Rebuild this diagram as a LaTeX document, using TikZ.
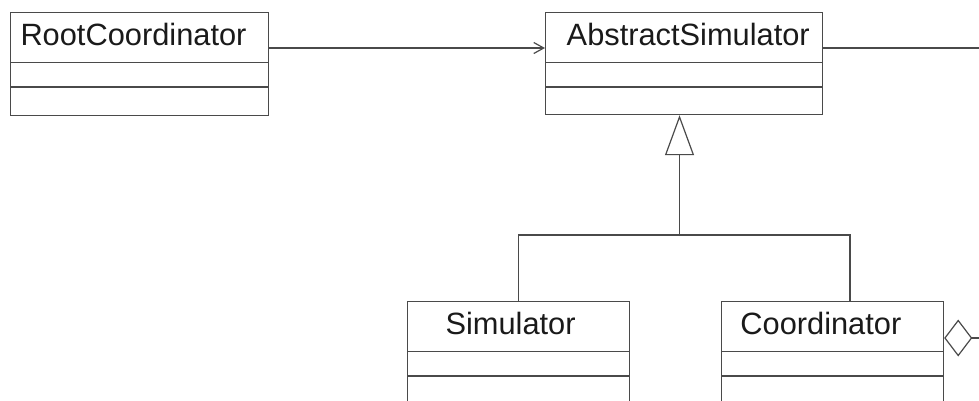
\documentclass[tikz,border=0pt]{standalone}
\usepackage{fontspec}
\setmainfont{Liberation Sans}
\usetikzlibrary{arrows.meta,calc}

\definecolor{umlline}{HTML}{4A4A4A}
\definecolor{umltext}{HTML}{1A1A1A}

\tikzset{
  classbox/.style={draw=umlline, line width=1.2pt, rectangle, inner sep=0pt,
                   anchor=north west, minimum height=103pt},
  classname/.style={anchor=base west, inner sep=0pt, text=umltext,
                    font=\fontsize{30.8pt}{36pt}\selectfont},
  divider/.style={draw=umlline, line width=1.2pt},
  assoc/.style={draw=umlline, line width=1.2pt},
}

\begin{document}
\begin{tikzpicture}[x=1pt, y=-1pt]
  \useasboundingbox (0,0) rectangle (979,400);
  \clip (0,0) rectangle (979,400);

  % class boxes
  \node[classbox, minimum width=258pt] (rc)    at (10,12)  {};
  \node[classbox, minimum width=277pt, minimum height=102pt] (as) at (545,12) {};
  \node[classbox, minimum width=222pt] (sim)   at (407,301) {};
  \node[classbox, minimum width=222pt] (coord) at (721,301) {};

  % class names
  \node[classname] (rc-name)    at (20.3,45)   {RootCoordinator};
  \node[classname] (as-name)    at (566.5,45)  {AbstractSimulator};
  \node[classname] (sim-name)   at (445.3,334.3) {Simulator};
  \node[classname] (coord-name) at (740.2,334.3) {Coordinator};

  % compartment separators
  \foreach \c in {rc,as,sim,coord}{
    \draw[divider] ($(\c.north west)+(0,50.5)$) -- ($(\c.north east)+(0,50.5)$);
    \draw[divider] ($(\c.north west)+(0,75)$)   -- ($(\c.north east)+(0,75)$);
  }

  % navigable association RootCoordinator -> AbstractSimulator
  \draw[assoc, -{Straight Barb[length=10pt,width=11pt,line width=1.2pt]}]
    ($(rc.north east)+(0,36)$) -- ($(as.north west)+(0,36)$);

  % association leaving AbstractSimulator to the right
  \coordinate (as-out) at (979,48);
  \draw[assoc] ($(as.north east)+(0,36)$) -- (as-out);

  % generalization tree
  \coordinate (gen) at ($(as.south west)+(134.5,121)$);
  \draw[assoc] (sim.north) |- ($(coord.north west)+(129,-66)$) -- ($(coord.north west)+(129,0)$);
  \draw[assoc, -{Triangle[open,length=40pt,width=29pt,line width=1.2pt]}]
    (gen) -- ($(as.south west)+(134.5,0)$);

  % aggregation from Coordinator
  \coordinate (coord-out) at (979,338);
  \draw[assoc, {Diamond[open,length=28pt,width=37pt,line width=1.2pt]}-]
    ($(coord.north east)+(0,37)$) -- (coord-out);
\end{tikzpicture}
\end{document}
